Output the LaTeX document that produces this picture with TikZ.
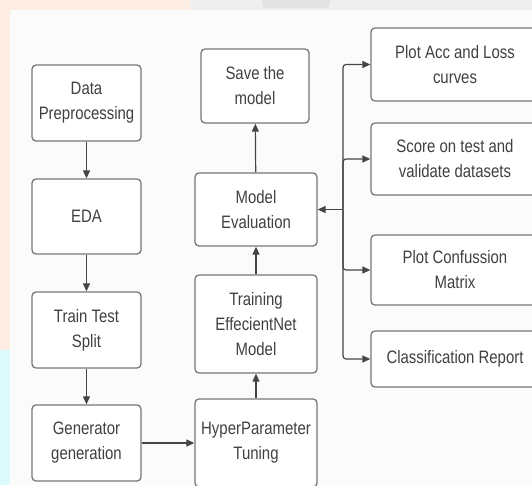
\documentclass[tikz,border=0pt]{standalone}
\usepackage{fontspec}
\setmainfont{Liberation Sans}[FakeStretch=0.83]
\usetikzlibrary{arrows.meta}
\definecolor{peach}{HTML}{FDEDE2}
\definecolor{cyanbg}{HTML}{DDFAFC}
\definecolor{topgray}{HTML}{E4E4E4}
\definecolor{paper}{HTML}{FBFBFB}
\definecolor{boxline}{HTML}{777777}
\definecolor{txt}{HTML}{404040}
\definecolor{arrline}{HTML}{454545}
\tikzset{
  stepbox/.style={draw=boxline, line width=1.3pt, rounded corners=4pt, fill=white,
    align=center, text=txt, font=\fontsize{18}{25}\selectfont, inner sep=2pt},
  arr/.style={draw=arrline, line width=1.2pt, -{Triangle[length=8pt,width=7pt]}}
}
\begin{document}
\begin{tikzpicture}[x=1pt,y=-1pt]
\useasboundingbox (0,0) rectangle (532,485);
% background
\fill[peach] (0,0) rectangle (532,485);
\fill[cyanbg] (0,350) rectangle (10,485);
\fill[topgray!60] (190,0) rectangle (532,10);
\fill[topgray, rounded corners=4pt] (262,-5) rectangle (330,8);
\fill[paper] (10,10) rectangle (532,485);
% left column
\node[stepbox, minimum width=109pt, minimum height=76pt] (dp) at (86.5,103) {Data\\Preprocessing};
\node[stepbox, minimum width=109pt, minimum height=75pt] (eda) at (86.5,216.5) {EDA};
\node[stepbox, minimum width=109pt, minimum height=76pt] (tts) at (86.5,330) {Train Test\\Split};
\node[stepbox, minimum width=109pt, minimum height=76pt] (gen) at (86.5,443) {Generator\\generation};
% middle column
\node[stepbox, minimum width=108pt, minimum height=74pt] (save) at (255,86) {Save the\\model};
\node[stepbox, minimum width=122pt, minimum height=73pt] (me) at (256,209.5) {Model\\Evaluation};
\node[stepbox, minimum width=122pt, minimum height=98pt] (train) at (256,324) {Training\\EffecientNet\\Model};
\node[stepbox, minimum width=122pt, minimum height=88pt] (hyp) at (256,443) {HyperParameter\\Tuning};
% right column
\node[stepbox, minimum width=168pt, minimum height=73pt] (acc) at (455,64.5) {Plot Acc and Loss\\curves};
\node[stepbox, minimum width=168pt, minimum height=72pt] (score) at (455,159) {Score on test and\\validate datasets};
\node[stepbox, minimum width=168pt, minimum height=70pt] (conf) at (455,270) {Plot Confussion\\Matrix};
\node[stepbox, minimum width=168pt, minimum height=56pt] (rep) at (455,359) {Classification Report};
% connectors
\draw[arr] (dp) -- (eda);
\draw[arr] (eda) -- (tts);
\draw[arr] (tts) -- (gen);
\draw[arr] (gen) -- (hyp);
\draw[arr] (hyp) -- (train);
\draw[arr] (train) -- (me);
\draw[arr] (me) -- (save);
\coordinate (trunk) at (343,209.5);
\draw[arr] (trunk) -- (me.east);
\draw[arr, rounded corners=3pt] (trunk) |- (acc.west);
\draw[arr, rounded corners=3pt] (trunk) |- (score.west);
\draw[arr, rounded corners=3pt] (trunk) |- (conf.west);
\draw[arr, rounded corners=3pt] (trunk) |- (rep.west);
\end{tikzpicture}
\end{document}
